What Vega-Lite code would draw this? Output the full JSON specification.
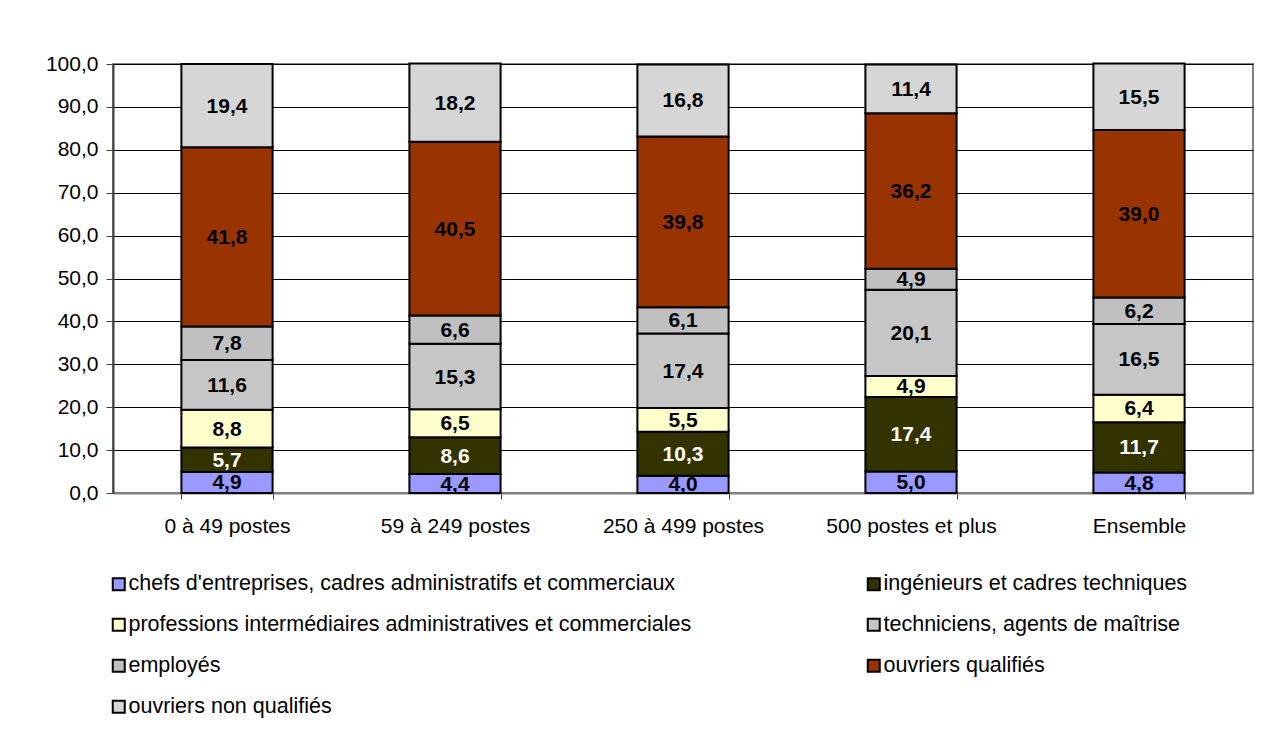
{
  "$schema": "https://vega.github.io/schema/vega-lite/v6.json",
  "autosize": "none",
  "width": 1140,
  "height": 429,
  "padding": {"left": 113, "top": 64, "right": 18, "bottom": 238},
  "background": "white",
  "config": {
    "font": "Liberation Sans",
    "view": {"stroke": "#808080", "strokeWidth": 2},
    "axis": {"labelFont": "Liberation Sans", "labelFontSize": 21, "labelColor": "black"}
  },
  "data": {
    "values": [
      {"taille": "0 à 49 postes", "cat": "chefs d'entreprises, cadres administratifs et commerciaux", "ordre": 1, "pct": 4.9},
      {"taille": "0 à 49 postes", "cat": "ingénieurs et cadres techniques", "ordre": 2, "pct": 5.7},
      {"taille": "0 à 49 postes", "cat": "professions intermédiaires administratives et commerciales", "ordre": 3, "pct": 8.8},
      {"taille": "0 à 49 postes", "cat": "techniciens, agents de maîtrise", "ordre": 4, "pct": 11.6},
      {"taille": "0 à 49 postes", "cat": "employés", "ordre": 5, "pct": 7.8},
      {"taille": "0 à 49 postes", "cat": "ouvriers qualifiés", "ordre": 6, "pct": 41.8},
      {"taille": "0 à 49 postes", "cat": "ouvriers non qualifiés", "ordre": 7, "pct": 19.4},

      {"taille": "59 à 249 postes", "cat": "chefs d'entreprises, cadres administratifs et commerciaux", "ordre": 1, "pct": 4.4},
      {"taille": "59 à 249 postes", "cat": "ingénieurs et cadres techniques", "ordre": 2, "pct": 8.6},
      {"taille": "59 à 249 postes", "cat": "professions intermédiaires administratives et commerciales", "ordre": 3, "pct": 6.5},
      {"taille": "59 à 249 postes", "cat": "techniciens, agents de maîtrise", "ordre": 4, "pct": 15.3},
      {"taille": "59 à 249 postes", "cat": "employés", "ordre": 5, "pct": 6.6},
      {"taille": "59 à 249 postes", "cat": "ouvriers qualifiés", "ordre": 6, "pct": 40.5},
      {"taille": "59 à 249 postes", "cat": "ouvriers non qualifiés", "ordre": 7, "pct": 18.2},

      {"taille": "250 à 499 postes", "cat": "chefs d'entreprises, cadres administratifs et commerciaux", "ordre": 1, "pct": 4.0},
      {"taille": "250 à 499 postes", "cat": "ingénieurs et cadres techniques", "ordre": 2, "pct": 10.3},
      {"taille": "250 à 499 postes", "cat": "professions intermédiaires administratives et commerciales", "ordre": 3, "pct": 5.5},
      {"taille": "250 à 499 postes", "cat": "techniciens, agents de maîtrise", "ordre": 4, "pct": 17.4},
      {"taille": "250 à 499 postes", "cat": "employés", "ordre": 5, "pct": 6.1},
      {"taille": "250 à 499 postes", "cat": "ouvriers qualifiés", "ordre": 6, "pct": 39.8},
      {"taille": "250 à 499 postes", "cat": "ouvriers non qualifiés", "ordre": 7, "pct": 16.8},

      {"taille": "500 postes et plus", "cat": "chefs d'entreprises, cadres administratifs et commerciaux", "ordre": 1, "pct": 5.0},
      {"taille": "500 postes et plus", "cat": "ingénieurs et cadres techniques", "ordre": 2, "pct": 17.4},
      {"taille": "500 postes et plus", "cat": "professions intermédiaires administratives et commerciales", "ordre": 3, "pct": 4.9},
      {"taille": "500 postes et plus", "cat": "techniciens, agents de maîtrise", "ordre": 4, "pct": 20.1},
      {"taille": "500 postes et plus", "cat": "employés", "ordre": 5, "pct": 4.9},
      {"taille": "500 postes et plus", "cat": "ouvriers qualifiés", "ordre": 6, "pct": 36.2},
      {"taille": "500 postes et plus", "cat": "ouvriers non qualifiés", "ordre": 7, "pct": 11.4},

      {"taille": "Ensemble", "cat": "chefs d'entreprises, cadres administratifs et commerciaux", "ordre": 1, "pct": 4.8},
      {"taille": "Ensemble", "cat": "ingénieurs et cadres techniques", "ordre": 2, "pct": 11.7},
      {"taille": "Ensemble", "cat": "professions intermédiaires administratives et commerciales", "ordre": 3, "pct": 6.4},
      {"taille": "Ensemble", "cat": "techniciens, agents de maîtrise", "ordre": 4, "pct": 16.5},
      {"taille": "Ensemble", "cat": "employés", "ordre": 5, "pct": 6.2},
      {"taille": "Ensemble", "cat": "ouvriers qualifiés", "ordre": 6, "pct": 39.0},
      {"taille": "Ensemble", "cat": "ouvriers non qualifiés", "ordre": 7, "pct": 15.5}
    ]
  },
  "transform": [
    {"stack": "pct", "groupby": ["taille"], "sort": [{"field": "ordre", "order": "ascending"}], "as": ["bas", "haut"]},
    {"calculate": "(datum.bas + datum.haut) / 2", "as": "milieu"},
    {"calculate": "replace(format(datum.pct, '.1f'), '.', ',')", "as": "etiquette"}
  ],
  "encoding": {
    "x": {
      "field": "taille",
      "type": "nominal",
      "sort": ["0 à 49 postes", "59 à 249 postes", "250 à 499 postes", "500 postes et plus", "Ensemble"],
      "scale": {"paddingInner": 0.6, "paddingOuter": 0.3},
      "axis": {
        "title": null,
        "labelAngle": 0,
        "labelPadding": 16,
        "domainColor": "#808080",
        "domainWidth": 2,
        "tickBand": "extent",
        "tickColor": "#404040",
        "tickSize": 6,
        "tickWidth": 1,
        "grid": false
      }
    }
  },
  "layer": [
    {
      "mark": {"type": "bar", "stroke": "black", "strokeWidth": 2, "strokeJoin": "miter"},
      "encoding": {
        "y": {
          "field": "bas",
          "type": "quantitative",
          "scale": {"domain": [0, 100], "nice": false},
          "axis": {
            "title": null,
            "values": [0, 10, 20, 30, 40, 50, 60, 70, 80, 90, 100],
            "labelExpr": "replace(format(datum.value, '.1f'), '.', ',')",
            "labelPadding": 8,
            "grid": true,
            "gridColor": "black",
            "gridWidth": 1,
            "domainColor": "#404040",
            "domainWidth": 2,
            "tickColor": "#404040",
            "tickSize": 7,
            "tickWidth": 1
          }
        },
        "y2": {"field": "haut"},
        "color": {
          "field": "cat",
          "type": "nominal",
          "sort": null,
          "scale": {
            "domain": [
              "chefs d'entreprises, cadres administratifs et commerciaux",
              "ingénieurs et cadres techniques",
              "professions intermédiaires administratives et commerciales",
              "techniciens, agents de maîtrise",
              "employés",
              "ouvriers qualifiés",
              "ouvriers non qualifiés"
            ],
            "range": ["#9999FF", "#333300", "#FFFFCC", "#C6C6C6", "#C0C0C0", "#993300", "#D6D6D6"]
          },
          "legend": {
            "title": null,
            "orient": "none",
            "direction": "horizontal",
            "columns": 2,
            "legendX": -5,
            "legendY": 509,
            "columnPadding": 171,
            "rowPadding": 18,
            "symbolType": "square",
            "symbolSize": 144,
            "symbolStrokeColor": "black",
            "symbolStrokeWidth": 2,
            "symbolOpacity": 1,
            "labelFont": "Liberation Sans",
            "labelFontSize": 21.5,
            "labelColor": "black",
            "labelLimit": 0,
            "labelOffset": -1,
            "gridAlign": "each"
          }
        }
      }
    },
    {
      "mark": {"type": "text", "font": "Liberation Sans", "fontSize": 21, "fontWeight": "bold", "baseline": "middle", "dy": 1},
      "encoding": {
        "y": {"field": "milieu", "type": "quantitative"},
        "text": {"field": "etiquette", "type": "nominal"},
        "color": {
          "condition": {"test": "datum.ordre === 2", "value": "white"},
          "value": "black"
        }
      }
    }
  ]
}
